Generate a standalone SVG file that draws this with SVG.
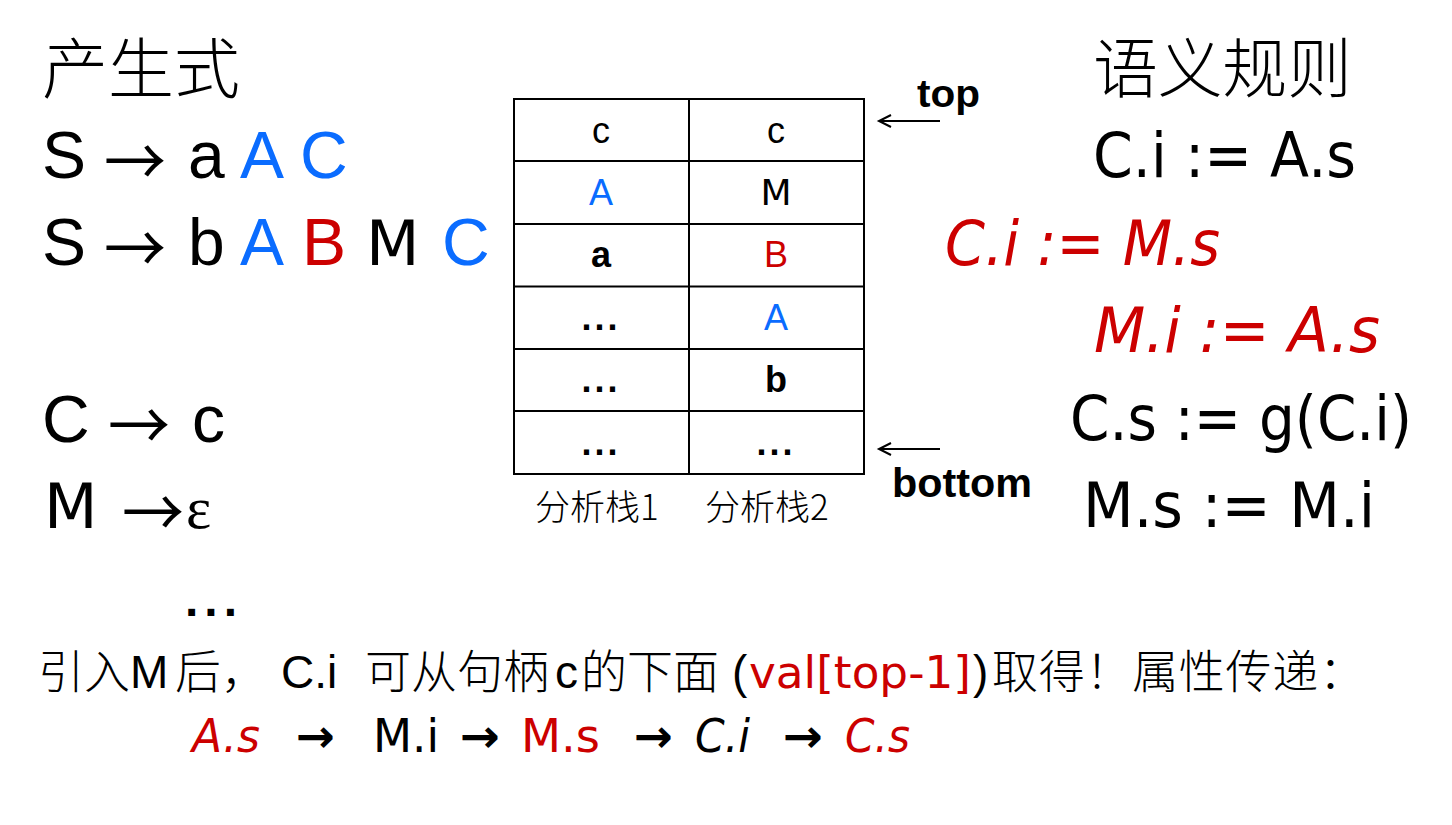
<svg xmlns="http://www.w3.org/2000/svg" width="1452" height="825" viewBox="0 0 1452 825">
<style>
.cjk{font-family:"Noto Sans CJK SC","Noto Sans",sans-serif;fill:#000;font-weight:300}
.ar{font-family:"Liberation Sans",Arial,sans-serif;fill:#000;font-weight:normal}
.cm{font-family:"DejaVu Sans","Liberation Sans",sans-serif;fill:#000;font-weight:normal}
.sy{font-family:"Noto Sans CJK SC",sans-serif;fill:#000;font-weight:400;font-style:normal}
.bl{fill:#0A6CFF}
.rd{fill:#CC0000}
.it{font-style:italic}
.b{font-weight:bold}
.cell{fill:none;stroke:#000;stroke-width:2}
.arr{stroke:#000;stroke-width:2;fill:none}
</style>
<defs>
<marker id="ah" markerWidth="16" markerHeight="16" refX="13" refY="7" orient="auto" markerUnits="userSpaceOnUse">
<path d="M1,1 L13,7 L1,13" fill="none" stroke="#000" stroke-width="2"/>
</marker>
</defs>
<rect width="1452" height="825" fill="#fff"/>

<g id="productions">
<text class="cjk" x="42" y="93" font-size="66" textLength="198">产生式</text>
<text class="ar" font-size="66" y="178"><tspan x="42">S</tspan><tspan x="104" y="186" class="sy" textLength="62" lengthAdjust="spacingAndGlyphs">→</tspan><tspan x="188" y="178">a</tspan><tspan x="240" class="bl">A</tspan><tspan x="300" class="bl">C</tspan></text>
<text class="ar" font-size="66" y="265"><tspan x="42">S</tspan><tspan x="104" y="273" class="sy" textLength="62" lengthAdjust="spacingAndGlyphs">→</tspan><tspan x="188" y="265">b</tspan><tspan x="240" class="bl">A</tspan><tspan x="302" class="rd">B</tspan><tspan x="366" class="cm" font-size="62">M</tspan><tspan x="442" class="bl">C</tspan></text>
<text class="ar" font-size="66" y="442"><tspan x="42">C</tspan><tspan x="108" y="450" class="sy" textLength="62" lengthAdjust="spacingAndGlyphs">→</tspan><tspan x="192" y="442">c</tspan></text>
<text font-size="62" y="528"><tspan x="44" class="cm">M</tspan><tspan x="122" y="537" class="sy" font-size="66" textLength="62" lengthAdjust="spacingAndGlyphs">→</tspan><tspan x="186" y="528" font-family="Liberation Serif,serif" font-size="60">ε</tspan></text>
<text class="ar b" x="185" y="616" font-size="48" letter-spacing="6">...</text>
</g>

<g id="stack">
<rect class="cell" x="514" y="99" width="350" height="375"/>
<line class="cell" x1="689" y1="99" x2="689" y2="474"/>
<line class="cell" x1="514" y1="161" x2="864" y2="161"/>
<line class="cell" x1="514" y1="224" x2="864" y2="224"/>
<line class="cell" x1="514" y1="286.5" x2="864" y2="286.5" stroke-width="3"/>
<line class="cell" x1="514" y1="349" x2="864" y2="349"/>
<line class="cell" x1="514" y1="411" x2="864" y2="411"/>
<g font-size="36" text-anchor="middle">
<text class="ar" x="601" y="143">c</text>
<text class="ar" x="776" y="143">c</text>
<text class="ar bl" x="601" y="205">A</text>
<text class="cm" x="776" y="205" font-size="36">M</text>
<text class="ar b" x="601" y="267">a</text>
<text class="ar rd" x="776" y="267">B</text>
<text class="ar b" x="601" y="330" letter-spacing="3">...</text>
<text class="ar bl" x="776" y="330">A</text>
<text class="ar b" x="601" y="392" letter-spacing="3">...</text>
<text class="ar b" x="776" y="392">b</text>
<text class="ar b" x="601" y="455" letter-spacing="3">...</text>
<text class="ar b" x="776" y="455" letter-spacing="3">...</text>
</g>
<text class="cjk" x="535" y="520" font-size="35">分析栈1</text>
<text class="cjk" x="705" y="520" font-size="35">分析栈2</text>
</g>

<g id="pointers">
<text class="ar b" x="917" y="107" font-size="38" textLength="63" lengthAdjust="spacingAndGlyphs">top</text>
<text class="ar b" x="892" y="497" font-size="40" textLength="140" lengthAdjust="spacingAndGlyphs">bottom</text>
</g>

<g id="connectors">
<line class="arr" x1="940" y1="121" x2="879" y2="121" marker-end="url(#ah)"/>
<line class="arr" x1="940" y1="449" x2="879" y2="449" marker-end="url(#ah)"/>
</g>

<g id="rules">
<text class="cjk" x="1093" y="92" font-size="65" textLength="259">语义规则</text>
<text class="cm" x="1093" y="177" font-size="62" textLength="263" lengthAdjust="spacingAndGlyphs">C.i := A.s</text>
<text class="cm rd it" x="945" y="265" font-size="62" textLength="275" lengthAdjust="spacingAndGlyphs">C.i := M.s</text>
<text class="cm rd it" x="1094" y="352" font-size="62" textLength="286" lengthAdjust="spacingAndGlyphs">M.i := A.s</text>
<text class="cm" x="1070" y="440" font-size="62" textLength="342" lengthAdjust="spacingAndGlyphs">C.s := g(C.i)</text>
<text class="cm" x="1083" y="527" font-size="62" textLength="292" lengthAdjust="spacingAndGlyphs">M.s := M.i</text>
</g>

<g id="note">
<text class="cjk" y="688" font-size="46"><tspan x="38">引入</tspan><tspan class="ar" x="130">M</tspan><tspan x="175">后，</tspan><tspan class="ar" x="281">C.i</tspan><tspan x="365">可从句柄</tspan><tspan class="ar" x="555">c</tspan><tspan x="581">的下面</tspan><tspan class="ar" x="732">(</tspan><tspan x="749" class="rd cm" font-size="44" textLength="222" lengthAdjust="spacingAndGlyphs">val[top-1]</tspan><tspan class="ar" x="973">)</tspan><tspan x="992" textLength="373">取得！属性传递：</tspan></text>
<text class="cm" y="752" font-size="46"><tspan x="192" class="rd it" textLength="68" lengthAdjust="spacingAndGlyphs">A.s</tspan><tspan x="296" class="b" textLength="39" lengthAdjust="spacingAndGlyphs">→</tspan><tspan x="373" textLength="66" lengthAdjust="spacingAndGlyphs">M.i</tspan><tspan x="460" class="b" textLength="40" lengthAdjust="spacingAndGlyphs">→</tspan><tspan x="521" class="rd" textLength="79" lengthAdjust="spacingAndGlyphs">M.s</tspan><tspan x="634" class="b" textLength="39" lengthAdjust="spacingAndGlyphs">→</tspan><tspan x="695" class="it" textLength="55" lengthAdjust="spacingAndGlyphs">C.i</tspan><tspan x="783" class="b" textLength="40" lengthAdjust="spacingAndGlyphs">→</tspan><tspan x="845" class="rd it" textLength="65" lengthAdjust="spacingAndGlyphs">C.s</tspan></text>
</g>
</svg>
